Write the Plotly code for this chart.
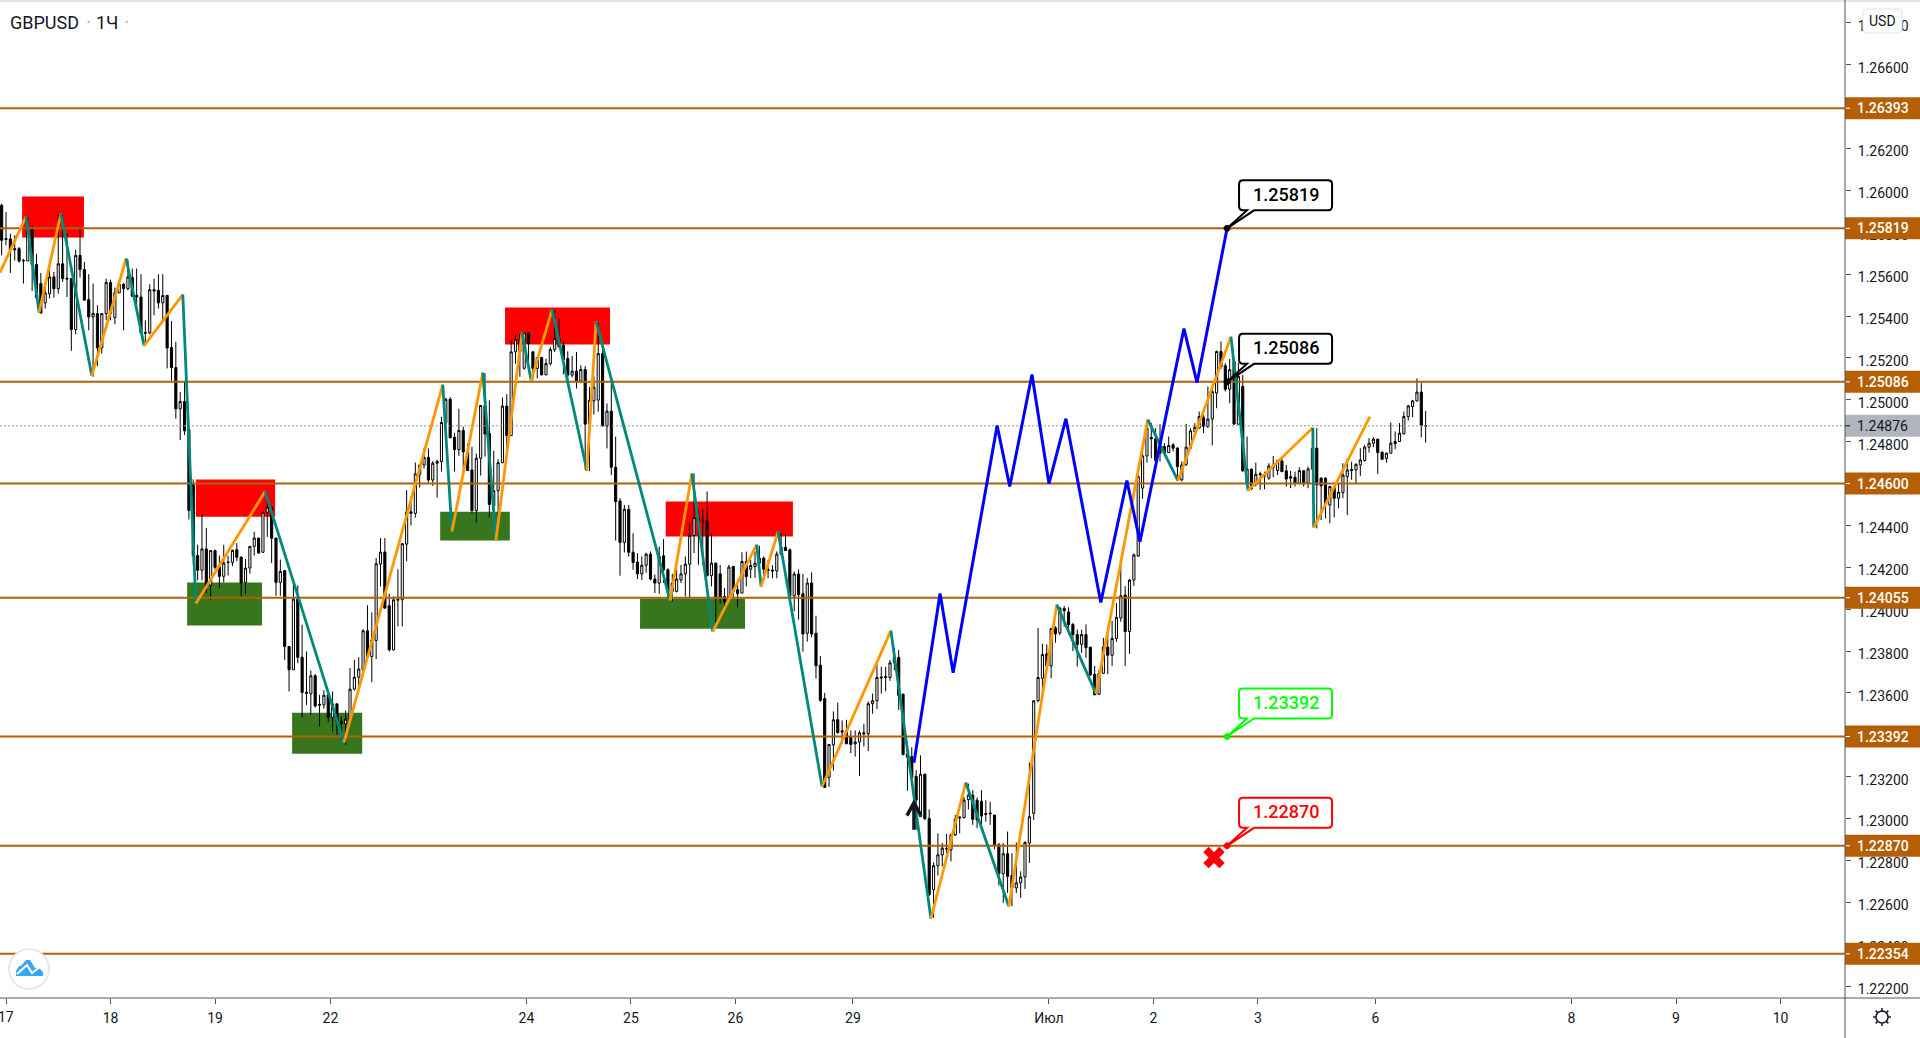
import numpy as np
import plotly.graph_objects as go

# GBPUSD 1h, prices in 1e-5 units, first bar sits one hour before the "17" tick
first_bar = -1
opens = [
    125929,125770,125768,125722,125722,125666,125663,125817,125646,125555,
    125463,125507,125587,125531,125650,125581,125579,125336,125690,125622,
    125479,125396,125412,125248,125412,125561,125393,125511,125552,125531,
    125584,125499,125491,125322,125320,125526,125523,125463,125499,125250,
    125154,124957,124992,124858,124595,124256,124186,124288,124114,124280,
    124202,124157,124223,124224,124284,124249,124128,124197,124300,124340,
    124272,124463,124488,124340,124128,124184,123822,123711,124048,123771,
    123604,123596,123682,123546,123543,123591,123483,123548,123465,123452,
    123475,123618,123675,123711,123897,123774,123851,124216,124273,124017,
    123806,124043,124045,124311,124465,124458,124644,124689,124725,124617,
    124697,124705,124892,125003,124821,124762,124854,124752,124665,124471,
    124721,124973,124840,124495,124566,124700,124970,124829,125229,125288,
    125151,125320,125229,125150,125202,125119,125173,125240,125293,125261,
    125197,125118,125137,125089,125145,124884,124995,124999,125221,124875,
    124946,124678,124517,124319,124477,124272,124225,124169,124210,124263,
    124144,124125,124255,124188,124125,124085,124140,124169,124215,124352,
    124438,124422,124422,124160,124220,124169,124061,124058,124204,124093,
    124077,124228,124191,124204,124220,124244,124190,124187,124183,124263,
    124296,124284,124064,124168,124074,123885,124125,123885,123733,123573,
    123197,123352,123472,123419,123419,123389,123357,123366,123410,123405,
    123549,123563,123676,123674,123674,123744,123770,123594,123309,123296,
    123202,123009,123212,123001,122661,122775,122827,122858,122851,122922,
    123008,123005,123091,123112,123088,123083,123024,123027,123017,122875,
    122737,122832,122728,122669,122693,122721,122883,123025,123563,123670,
    123787,123729,123911,123887,124003,123987,123927,123879,123832,123879,
    123819,123689,123594,123694,123819,123780,123860,123958,124068,123893,
    124139,124254,124578,124732,124820,124814,124782,124777,124748,124785,
    124769,124618,124692,124769,124849,124865,124917,124873,124908,125032,
    125231,125163,125051,125183,124884,125064,124602,124669,124602,124647,
    124640,124626,124684,124662,124708,124661,124633,124630,124602,124661,
    124602,124669,124769,124626,124626,124498,124581,124530,124557,124633,
    124667,124665,124689,124710,124774,124793,124812,124750,124720,124745,
    124790,124801,124838,124920,124968,124995,125037,124876,
]
highs = [
    125937,125897,125794,125786,125730,125674,125873,125833,125698,125606,
    125555,125666,125611,125884,125884,125794,125581,125717,125825,125658,
    125600,125555,125452,125412,125579,125574,125536,125571,125558,125670,
    125627,125627,125600,125380,125552,125579,125600,125600,125499,125377,
    125277,125037,125091,124870,124620,124308,124452,124388,124280,124285,
    124256,124308,124256,124285,124316,124252,124240,124303,124370,124340,
    124463,124552,124488,124340,124237,124188,123822,124122,124114,123926,
    123798,123707,123691,123591,123613,123613,123607,123548,123490,123516,
    123719,123758,123771,123905,124019,123985,124245,124340,124340,124074,
    124061,124191,124313,124568,124538,124701,124693,124768,124768,124708,
    124714,124919,125010,125013,124843,124957,124872,124791,124776,124743,
    124975,125128,124998,124757,124716,125011,125027,125288,125313,125316,
    125320,125320,125234,125205,125205,125197,125253,125428,125388,125279,
    125232,125210,125229,125165,125161,125062,125113,125367,125261,124983,
    125102,124824,124530,124498,124498,124363,124268,124252,124270,124276,
    124165,124299,124335,124196,124169,124204,124212,124252,124411,124649,
    124475,124477,124562,124363,124223,124212,124101,124212,124207,124141,
    124272,124275,124236,124276,124303,124252,124236,124210,124276,124363,
    124363,124290,124180,124190,124169,124149,124176,123969,123776,123600,
    123354,123512,123554,123469,123472,123421,123421,123421,123453,123560,
    123597,123738,123725,123725,123757,123813,123805,123597,123365,123341,
    123231,123302,123215,123044,122791,122930,122883,122927,122927,123017,
    123009,123104,123167,123136,123101,123136,123088,123080,123017,122883,
    122883,122938,122835,122886,122748,122890,123267,123563,123911,123835,
    123832,123911,123919,124009,124015,124009,123935,123903,123903,123927,
    123819,123729,123710,123863,123887,123945,124030,124211,124110,124145,
    124267,124641,124785,124904,124889,124865,124884,124793,124825,124793,
    124774,124705,124885,124865,124889,124944,124928,125064,125064,125236,
    125279,125175,125195,125183,125175,125120,124825,124672,124700,124657,
    124657,124697,124732,124713,124729,124689,124661,124657,124678,124665,
    124681,124801,124865,124630,124630,124590,124586,124602,124697,124721,
    124705,124697,124769,124785,124817,124822,124814,124753,124748,124892,
    124849,124889,124944,124976,125000,125102,125080,124947,
]
lows = [
    125690,125738,125606,125666,125655,125555,125663,125520,125488,125412,
    125436,125484,125488,125507,125563,125491,125234,125313,125584,125476,
    125332,125110,125161,125221,125380,125380,125361,125511,125332,125523,
    125491,125412,125320,125261,125313,125404,125436,125377,125150,125091,
    124910,124808,124832,124428,124213,124138,124138,124077,124045,124189,
    124101,124128,124161,124205,124229,124061,124074,124170,124256,124265,
    124268,124345,124221,124064,124064,123758,123607,123711,123742,123483,
    123543,123495,123530,123440,123525,123460,123416,123400,123379,123352,
    123472,123612,123631,123708,123771,123652,123762,124109,124005,123798,
    123803,123918,123918,124229,124400,124438,124581,124672,124605,124589,
    124533,124657,124870,124817,124657,124733,124657,124662,124458,124414,
    124638,124729,124439,124419,124442,124697,124733,124829,125173,125110,
    125144,125165,125094,125102,125118,125118,125165,125228,125253,125122,
    125094,125107,125054,125080,124665,124660,124930,124943,124875,124768,
    124641,124328,124160,124271,124252,124188,124144,124140,124175,124138,
    124077,124074,124125,124053,124037,124080,124125,124061,124056,124268,
    124212,124212,124156,124109,123934,124026,123997,124037,124053,124009,
    124077,124109,124148,124150,124190,124141,124148,124148,124148,124258,
    124280,124056,123990,123950,123797,123845,123866,123669,123557,123149,
    123152,123229,123405,123357,123357,123312,123296,123203,123344,123322,
    123501,123523,123597,123608,123658,123709,123519,123302,123133,123157,
    122946,123009,122993,122630,122527,122728,122772,122835,122796,122917,
    122930,123000,123044,122970,122954,122962,122985,122970,122854,122680,
    122598,122645,122582,122645,122622,122664,122788,122993,123555,123563,
    123729,123670,123840,123876,123917,123879,123800,123726,123792,123768,
    123681,123591,123590,123692,123690,123729,123844,123940,123729,123787,
    124111,124250,124527,124700,124721,124689,124705,124737,124748,124753,
    124633,124610,124684,124761,124841,124865,124841,124865,124782,124960,
    125147,125040,124984,124884,124880,124657,124600,124570,124586,124570,
    124573,124618,124630,124641,124655,124586,124578,124586,124598,124586,
    124578,124665,124386,124426,124434,124410,124439,124482,124530,124450,
    124618,124602,124637,124705,124748,124774,124646,124713,124700,124745,
    124764,124801,124833,124901,124917,124992,124820,124796,
]
closes = [
    125762,125766,125714,125717,125663,125664,125817,125646,125488,125415,
    125511,125587,125531,125650,125579,125577,125336,125690,125622,125476,
    125396,125412,125248,125412,125561,125412,125511,125552,125531,125587,
    125495,125491,125320,125318,125526,125520,125463,125498,125248,125154,
    124957,124992,124852,124472,124256,124186,124288,124114,124280,124200,
    124157,124221,124225,124281,124248,124125,124197,124300,124340,124268,
    124463,124487,124339,124128,124181,123822,123711,124048,123770,123602,
    123599,123682,123538,123542,123589,123483,123548,123463,123452,123475,
    123618,123675,123714,123897,123774,123854,124217,124273,124005,123806,
    124045,124047,124313,124465,124458,124646,124689,124725,124617,124697,
    124706,124892,125002,124819,124762,124854,124752,124662,124471,124721,
    124973,124837,124500,124566,124700,124970,124829,125229,125288,125229,
    125320,125269,125150,125202,125119,125173,125240,125293,125253,125192,
    125118,125137,125089,125145,124884,124999,125060,125221,124875,124946,
    124678,124514,124319,124477,124272,124223,124169,124210,124263,124144,
    124125,124252,124188,124080,124085,124144,124169,124215,124352,124438,
    124414,124418,124160,124220,124056,124058,124037,124201,124085,124074,
    124228,124156,124209,124220,124244,124191,124186,124183,124263,124296,
    124280,124064,124168,124069,123882,124125,123882,123730,123565,123149,
    123354,123472,123411,123413,123357,123354,123366,123410,123405,123549,
    123563,123674,123672,123678,123744,123770,123589,123306,123293,123197,
    123088,123212,123000,122637,122775,122827,122859,122855,122922,122998,
    123004,123088,123112,122997,122993,123012,123020,123023,122875,122737,
    122832,122724,122669,122693,122721,122887,123009,123563,123674,123784,
    123729,123908,123882,124006,123993,123927,123879,123832,123879,123816,
    123686,123591,123694,123819,123780,123860,123961,124064,123893,124139,
    124259,124633,124732,124865,124814,124710,124745,124745,124782,124769,
    124681,124689,124774,124852,124868,124920,124873,124908,125040,125231,
    125159,125051,125144,124884,125112,124661,124669,124575,124645,124643,
    124636,124684,124678,124710,124657,124622,124626,124602,124662,124602,
    124670,124769,124594,124589,124506,124586,124530,124559,124641,124665,
    124663,124692,124713,124774,124793,124812,124748,124716,124745,124793,
    124801,124841,124920,124971,124995,125037,124877,124876,
]

# drawn lines, x in bars
zigzag_x = [-1.4, 4.6, 7.6, 12.6, 19.7, 27.6, 31.7, 40.6, 43.6, 59.5, 77.6, 100.3, 102.4, 109.5,
            112.5, 118.5, 120.6, 125.4, 133.4, 135.5, 152.5, 157.5, 162.3, 172.4, 173.4, 177.3,
            187.4, 203.2, 212.4, 220.4, 230.3, 241.3, 250.3, 262.2, 269.1, 281.3, 285.2, 300.1,
            300.3, 313.2]
zigzag_y = [125608, 125875, 125417, 125889, 125116, 125675, 125259, 125503, 124027, 124562,
            123363, 125073, 124371, 125130, 124328, 125321, 125092, 125431, 124662, 125374,
            124041, 124648, 123893, 124309, 124108, 124371, 123153, 123898, 122522, 123172,
            122580, 124022, 123597, 124906, 124614, 125302, 124567, 124867, 124390, 124920]
forecast_x = [208.5, 214.5, 217.5, 227.6, 230.5, 235.6, 239.5, 243.4, 251.4, 257.4, 260.4, 270.5, 273.5, 280.4]
forecast_y = [123267, 124075, 123697, 124877, 124586, 125121, 124600, 124910, 124032, 124614,
              124323, 125340, 125082, 125819]

levels = [1.26393, 1.25819, 1.25086, 1.24600, 1.24055, 1.23392, 1.22870, 1.22354]
last_price = 1.24876

red_zones = [(3.7, 17.9, 1.25775, 1.25971), (43.6, 61.8, 1.24442, 1.24619),
             (114.6, 138.7, 1.25264, 1.25441), (151.5, 180.7, 1.24347, 1.24514)]
green_zones = [(41.6, 58.8, 1.23922, 1.24127), (65.7, 81.8, 1.23310, 1.23506),
               (99.7, 115.7, 1.24328, 1.24466), (145.6, 169.7, 1.23907, 1.24051)]

callout_bar = 280.4
callout_prices = [1.25819, 1.25086, 1.23392, 1.22870]
callout_colors = ["#000000", "#000000", "#00ff00", "#ff0000"]

cross_bar = [277.4]
cross_price = [1.22814]
arrow_bar = 208.5
arrow_price = 1.23076

day_ticks = [0, 24, 48, 74.5, 119.5, 143.5, 167.5, 194.5, 239.5, 263.5, 287.5, 314.5, 359.5, 383.5, 407.5]
day_labels = ["17", "18", "19", "22", "24", "25", "26", "29", "Июл", "2", "3", "6", "8", "9", "10"]
price_ticks = [1.222 + 0.002 * k for k in range(24)]

X_RANGE = [-1.378, 422.3]
Y_RANGE = [1.221431, 1.269097]
BROWN = "#b45f06"
AXIS = "#50535e"
TEXT = "#131722"
FONT = "Roboto"


def pts(values):
    return [v / 1e5 for v in values]


def rounded(x0, y0, x1, y1, r=4):
    return (f"M {x0+r},{y0} L {x1-r},{y0} Q {x1},{y0} {x1},{y0+r} L {x1},{y1-r} Q {x1},{y1} {x1-r},{y1} "
            f"L {x0+r},{y1} Q {x0},{y1} {x0},{y1-r} L {x0},{y0+r} Q {x0},{y0} {x0+r},{y0} Z")


def circle(r, cx=0, cy=0, n=48):
    a = np.linspace(0, 2 * np.pi, n, endpoint=False)
    return "M " + " L ".join(f"{cx+r*np.cos(t):.2f},{cy+r*np.sin(t):.2f}" for t in a) + " Z"


bars = list(range(first_bar, first_bar + len(opens)))

fig = go.Figure()
fig.add_trace(go.Candlestick(
    x=bars, open=pts(opens), high=pts(highs), low=pts(lows), close=pts(closes),
    increasing=dict(line=dict(color="#000000", width=1), fillcolor="#ffffff"),
    decreasing=dict(line=dict(color="#000000", width=1), fillcolor="#000000"),
    showlegend=False, hoverinfo="skip",
))

# levels and last price
for lvl in levels:
    fig.add_trace(go.Scatter(x=X_RANGE, y=[lvl, lvl], mode="lines", line=dict(color=BROWN, width=2),
                             showlegend=False, hoverinfo="skip"))
fig.add_trace(go.Scatter(x=X_RANGE, y=[last_price, last_price], mode="lines",
                         line=dict(color="#9598a1", width=1, dash="2px 2px"),
                         showlegend=False, hoverinfo="skip"))

# zigzag, legs take turns between orange and teal
zig_y = pts(zigzag_y)
for k in range(len(zigzag_x) - 1):
    fig.add_trace(go.Scatter(x=zigzag_x[k:k + 2], y=zig_y[k:k + 2], mode="lines",
                             line=dict(color="#ff9800" if k % 2 == 0 else "#00897b", width=2.8),
                             showlegend=False, hoverinfo="skip"))

fig.add_trace(go.Scatter(x=forecast_x, y=pts(forecast_y), mode="lines", line=dict(color="#0000ff", width=3),
                         showlegend=False, hoverinfo="skip"))
fig.add_trace(go.Scatter(x=cross_bar, y=cross_price, mode="markers",
                         marker=dict(symbol="x", size=19, color="#ff0000", line=dict(width=0)),
                         showlegend=False, hoverinfo="skip"))

shapes = []
for x0, x1, y0, y1 in red_zones:
    shapes.append(dict(type="rect", x0=x0, x1=x1, y0=y0, y1=y1, fillcolor="#ff0000", line_width=0, layer="below"))
for x0, x1, y0, y1 in green_zones:
    shapes.append(dict(type="rect", x0=x0, x1=x1, y0=y0, y1=y1, fillcolor="#38761d", line_width=0, layer="below"))

annotations = []

# price labels on the axis
for lvl in levels + [last_price]:
    grey = lvl == last_price
    shapes.append(dict(type="rect", xref="paper", xsizemode="pixel", xanchor=1, x0=0, x1=75,
                       yref="y", ysizemode="pixel", yanchor=lvl, y0=-11, y1=11,
                       fillcolor="#b2b5be" if grey else BROWN, line_width=0))
    shapes.append(dict(type="line", xref="paper", xsizemode="pixel", xanchor=1, x0=0, x1=5,
                       yref="y", ysizemode="pixel", yanchor=lvl, y0=0, y1=0,
                       line=dict(color=TEXT if grey else "#ffffff", width=1)))
    annotations.append(dict(xref="paper", x=1, xanchor="left", xshift=10, yref="y", y=lvl, showarrow=False,
                            text=f"{lvl:.5f}", font=dict(family=FONT, size=14, color=TEXT if grey else "#ffffff",
                                                         weight=400 if grey else 500)))

# callouts with rounded box and tail
for price, col in zip(callout_prices, callout_colors):
    path = ("M 16,18 L 20,18 L 0,0 L 27,18 L 101,18 Q 105,18 105,22 L 105,44 Q 105,48 101,48 L 16,48 "
            "Q 12,48 12,44 L 12,22 Q 12,18 16,18 Z")
    shapes.append(dict(type="path", path=path, xref="x", xsizemode="pixel", xanchor=callout_bar,
                       yref="y", ysizemode="pixel", yanchor=price, fillcolor="#ffffff",
                       line=dict(color=col, width=2)))
    shapes.append(dict(type="path", path=circle(3), xref="x", xsizemode="pixel", xanchor=callout_bar,
                       yref="y", ysizemode="pixel", yanchor=price, fillcolor=col, line=dict(color=col, width=1)))
    annotations.append(dict(x=callout_bar, y=price, xshift=58.5, yshift=34, showarrow=False,
                            text=f"{price:.5f}", font=dict(family=FONT, size=18, color=col, weight=500)))

# up arrow on the forecast start
shapes.append(dict(type="path", path="M -7,-13 L 0,0 L 7,-13 M 0,0 L 0,-27", xref="x", xsizemode="pixel",
                   xanchor=arrow_bar, yref="y", ysizemode="pixel", yanchor=arrow_price,
                   line=dict(color=TEXT, width=3.5)))

# frame: axis lines and top strip
shapes.append(dict(type="rect", xref="paper", yref="paper", x0=0, x1=1920 / 1845, y0=1 - 2 / 998, y1=1,
                   fillcolor="#e0e3eb", line_width=0))
shapes.append(dict(type="line", xref="paper", yref="paper", x0=1, x1=1, y0=-40 / 998, y1=1,
                   line=dict(color=AXIS, width=1)))
shapes.append(dict(type="line", xref="paper", yref="paper", x0=0, x1=1920 / 1845, y0=0, y1=0,
                   line=dict(color=AXIS, width=1)))

# USD button
shapes.append(dict(type="path", path=rounded(18, -33, 57, -9), xref="paper", xsizemode="pixel", xanchor=1,
                   yref="paper", ysizemode="pixel", yanchor=1, fillcolor="#ffffff",
                   line=dict(color="#e0e3eb", width=1)))
annotations.append(dict(xref="paper", yref="paper", x=1, y=1, xanchor="center", yanchor="middle",
                        xshift=37.5, yshift=-21, showarrow=False, text="USD",
                        font=dict(family=FONT, size=14, color=TEXT)))

# settings gear, centre 37 px right of the price axis and 19 px under the time axis
gear = circle(6, 37, -19, 24)
for t in np.linspace(0, 2 * np.pi, 8, endpoint=False):
    gear += f" M {37+6*np.cos(t):.2f},{-19+6*np.sin(t):.2f} L {37+9*np.cos(t):.2f},{-19+9*np.sin(t):.2f}"
shapes.append(dict(type="path", path=gear, xref="paper", xsizemode="pixel", xanchor=1, yref="paper",
                   ysizemode="pixel", yanchor=0, line=dict(color=TEXT, width=1.5)))

# broker badge
shapes.append(dict(type="circle", xref="paper", yref="paper", x0=9 / 1845, x1=49 / 1845,
                   y0=(998 - 989) / 998, y1=(998 - 949) / 998, fillcolor="#ffffff",
                   line=dict(color="#e0e3eb", width=1.5)))
badge_x = 29 / 1845
badge_y = (998 - 969) / 998
shapes.append(dict(type="path", xref="paper", yref="paper", xsizemode="pixel", ysizemode="pixel",
                   xanchor=badge_x, yanchor=badge_y, fillcolor="#38a6f5", line_width=0,
                   path="M -13,-7 L 14,-7 L 14,-3 L 10,1 L 6,1 L 1,9 L -3,9 L -8,3 L -10,3 L -13,-2 Z"))
shapes.append(dict(type="path", xref="paper", yref="paper", xsizemode="pixel", ysizemode="pixel",
                   xanchor=badge_x, yanchor=badge_y, line=dict(color="#ffffff", width=2),
                   path="M -12,-5 L -2,4 L 3,-4 L 12,3"))

# header
annotations.append(dict(xref="paper", yref="paper", x=0, y=1, xanchor="left", yanchor="middle", xshift=8,
                        yshift=-22, showarrow=False, text="GBPUSD", font=dict(family=FONT, size=18, color=TEXT)))
annotations.append(dict(xref="paper", yref="paper", x=0, y=1, xanchor="left", yanchor="middle", xshift=94,
                        yshift=-22, showarrow=False, text="1Ч", font=dict(family=FONT, size=18, color=TEXT)))
for dot_shift in (85, 123):
    annotations.append(dict(xref="paper", yref="paper", x=0, y=1, xanchor="left", yanchor="middle",
                            xshift=dot_shift, yshift=-22, showarrow=False, text="•",
                            font=dict(family=FONT, size=10, color="#b2b5be")))

# the "17" label runs off the left edge, so it is placed by hand instead of by the axis
annotations.append(dict(x=day_ticks[0], xref="x", yref="paper", y=0, xanchor="center", yanchor="middle",
                        yshift=-19, showarrow=False, text=day_labels[0],
                        font=dict(family=FONT, size=14, color=TEXT)))

fig.update_layout(
    width=1920, height=1038, margin=dict(l=0, r=75, t=0, b=40),
    paper_bgcolor="#ffffff", plot_bgcolor="#ffffff", showlegend=False, dragmode=False,
    shapes=shapes, annotations=annotations,
    xaxis=dict(range=X_RANGE, rangeslider=dict(visible=False), tickmode="array", tickvals=day_ticks,
               ticktext=[""] + day_labels[1:], ticks="outside", ticklen=5, tickcolor=AXIS, showgrid=False,
               zeroline=False, showline=False, tickfont=dict(family=FONT, size=14, color=TEXT), ticklabelstandoff=2),
    yaxis=dict(range=Y_RANGE, side="right", tickmode="array", tickvals=price_ticks, tickformat=".5f",
               ticks="outside", ticklen=5, tickcolor=AXIS, showgrid=False, zeroline=False, showline=False,
               tickfont=dict(family=FONT, size=14, color=TEXT), ticklabelstandoff=4, ticklabelshift=3),
)

# the page default adds an 8 px body margin, the picture fills the window edge to edge
fig.write_html("out.html", config={"displayModeBar": False}, post_script="document.body.style.margin='0';")
